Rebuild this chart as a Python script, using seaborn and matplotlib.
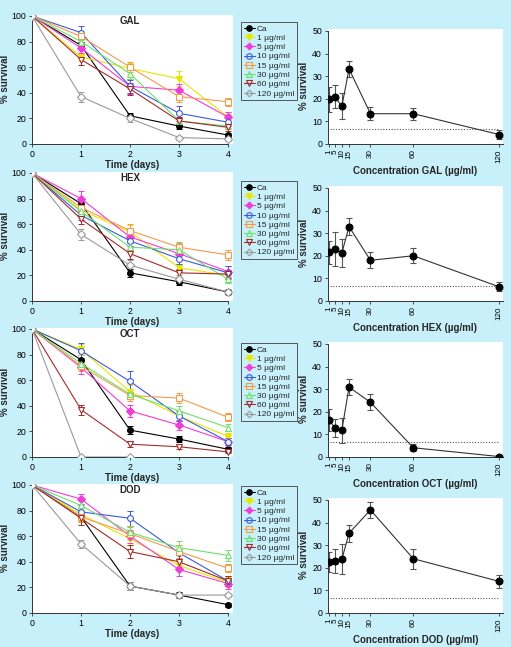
import numpy as np
import pandas as pd
import matplotlib
matplotlib.use('Agg')
import matplotlib.pyplot as plt
from matplotlib.lines import Line2D
import seaborn as sns

sns.set_theme(style='ticks')
plt.rcParams['font.family'] = ['Liberation Sans', 'DejaVu Sans']

BG = '#c8f0fa'

# ---------------- data ----------------
compounds = ['GAL', 'HEX', 'OCT', 'DOD']
days = [0, 1, 2, 3, 4]
series = ['Ca', '1 µg/ml', '5 µg/ml', '10 µg/ml', '15 µg/ml', '30 µg/ml', '60 µg/ml', '120 µg/ml']
colors = ['#000000', '#e6e600', '#f03cd8', '#3b5bd9', '#f59a4a', '#6ee06e', '#a52a2a', '#9a9a9a']
markers = ['o', 'v', 'D', 'o', 's', '^', 'v', 'D']
filled = [True, True, True, False, False, False, False, False]

GAL_MEAN = [[100, 77, 22, 14, 7],
            [100, 68, 59, 51, 21],
            [100, 75, 45, 42, 21],
            [100, 87, 45, 24, 17],
            [100, 84, 60, 37, 33],
            [100, 80, 55, 18, 14],
            [100, 66, 43, 18, 13],
            [100, 37, 20, 5, 4]]
GAL_ERR = [[0, 3, 2.5, 2, 1.5],
           [0, 3, 4, 6, 4],
           [0, 4, 6, 5, 4],
           [0, 5, 5, 6, 3],
           [0, 3, 4, 4, 3],
           [0, 3, 4, 3, 2],
           [0, 4, 5, 3, 3],
           [0, 4, 3, 1.5, 1.5]]

HEX_MEAN = [[100, 76, 22, 15, 7],
            [100, 71, 54, 26, 20],
            [100, 80, 50, 37, 23],
            [100, 67, 47, 33, 22],
            [100, 73, 55, 42, 36],
            [100, 70, 42, 40, 17],
            [100, 64, 37, 22, 21],
            [100, 52, 28, 17, 7]]
HEX_ERR = [[0, 3, 3, 2.5, 1.5],
           [0, 3, 5, 3, 3],
           [0, 6, 5, 4, 4],
           [0, 4, 4, 4, 5],
           [0, 4, 5, 4, 4],
           [0, 3, 4, 5, 3],
           [0, 4, 4, 3, 3],
           [0, 4, 4, 3, 2]]

OCT_MEAN = [[100, 76, 21, 14, 6],
            [100, 84, 51, 32, 16],
            [100, 70, 36, 25, 12],
            [100, 83, 59, 32, 12],
            [100, 71, 48, 46, 31],
            [100, 73, 49, 36, 23],
            [100, 37, 10, 8, 4],
            [100, 0, 0, np.nan, np.nan]]
OCT_ERR = [[0, 4, 3, 2.5, 2],
           [0, 4, 5, 4, 3],
           [0, 5, 5, 4, 3],
           [0, 6, 8, 4, 3],
           [0, 4, 4, 4, 3],
           [0, 4, 4, 4, 3],
           [0, 4, 2, 2, 1],
           [0, 1, 0.5, np.nan, np.nan]]

DOD_MEAN = [[100, 75, 21, 14, 6.5],
            [100, 77, 58, 37, 24],
            [100, 89, 60, 34, 23],
            [100, 79, 74, 47, 25],
            [100, 75, 62, 48, 35],
            [100, 84, 63, 51, 45],
            [100, 74, 48, 40, 25],
            [100, 54, 21, 14, 14]]
DOD_ERR = [[0, 3, 3, 2.5, 1.5],
           [0, 5, 5, 4, 4],
           [0, 4, 5, 5, 4],
           [0, 5, 6, 6, 4],
           [0, 4, 5, 5, 3],
           [0, 4, 5, 5, 4],
           [0, 5, 5, 5, 4],
           [0, 3, 3, 2, 1.5]]

conc = [1, 5, 10, 15, 30, 60, 120]
GAL_DAY = [19.7, 20.9, 16.7, 33.2, 13.4, 13.4, 4.2]
GAL_DAY_ERR = [5.5, 5.0, 5.8, 3.5, 2.8, 2.6, 1.8]
HEX_DAY = [21.5, 23.2, 21.3, 32.9, 18.0, 20.0, 6.3]
HEX_DAY_ERR = [5.0, 7.5, 6.3, 3.6, 3.6, 3.4, 2.0]
OCT_DAY = [16.4, 13.0, 11.9, 30.9, 24.2, 4.1, 0.2]
OCT_DAY_ERR = [4.8, 4.0, 5.5, 3.5, 3.5, 1.5, 0.0]
DOD_DAY = [22.6, 22.8, 23.8, 35.3, 45.6, 24.0, 14.0]
DOD_DAY_ERR = [4.4, 5.3, 6.5, 3.7, 3.7, 4.5, 2.8]
ctrl_level = 6.7

means = [GAL_MEAN, HEX_MEAN, OCT_MEAN, DOD_MEAN]
errs = [GAL_ERR, HEX_ERR, OCT_ERR, DOD_ERR]
day_vals = [GAL_DAY, HEX_DAY, OCT_DAY, DOD_DAY]
day_errs = [GAL_DAY_ERR, HEX_DAY_ERR, OCT_DAY_ERR, DOD_DAY_ERR]

# ---------------- layout ----------------
W, H = 511, 647
fig = plt.figure(figsize=(W / 100, H / 100), dpi=100, facecolor=BG)


def ax_px(l, t, r, b):
    a = fig.add_axes([l / W, 1 - b / H, (r - l) / W, (b - t) / H])
    a.set_facecolor('white')
    return a


bottoms = [144, 301, 457, 613]
TS = 6.3
LS = 7


def style_axes(a):
    for s in ['top', 'right']:
        a.spines[s].set_visible(False)
    for s in ['left', 'bottom']:
        a.spines[s].set_color('#333333')
        a.spines[s].set_linewidth(0.7)
    a.tick_params(direction='out', length=2.5, width=0.6, colors='#333333',
                  labelsize=TS, pad=1.5, labelcolor='black')


for i, comp in enumerate(compounds):
    b = bottoms[i]
    # left panel
    ax = ax_px(32, b - 129.3, 233, b)
    for j, name in enumerate(series):
        df = pd.DataFrame({'day': days, 'val': means[i][j]}).dropna()
        mfc = colors[j] if filled[j] else 'white'
        ms = 4.2 if markers[j] != 'D' else 3.6
        sns.lineplot(data=df, x='day', y='val', ax=ax, color=colors[j],
                     marker=markers[j], markersize=ms, markerfacecolor=mfc,
                     markeredgecolor=colors[j], markeredgewidth=0.8,
                     linewidth=0.8, legend=False, zorder=3 + j * 0.01)
        ax.errorbar(days, means[i][j], yerr=errs[i][j], fmt='none',
                    ecolor=colors[j], elinewidth=0.7, capsize=2, capthick=0.7, zorder=2)
    ax.set_xlim(0, 4.1)
    ax.set_ylim(0, 101)
    ax.set_xticks([0, 1, 2, 3, 4])
    ax.set_yticks([0, 20, 40, 60, 80, 100])
    ax.spines['bottom'].set_bounds(0, 4)
    ax.spines['left'].set_bounds(0, 100)
    style_axes(ax)
    ax.set_xlabel('Time (days)', fontsize=LS, fontweight='bold', labelpad=1)
    ax.set_ylabel('% survival', fontsize=LS, fontweight='bold', labelpad=1)
    ax.text(2.0, 96, comp, fontsize=LS, fontweight='bold', ha='center', va='center')

    # right panel
    ax2 = ax_px(327.6, b - 115.3, 503.3, b)
    dfr = pd.DataFrame({'conc': conc, 'val': day_vals[i]})
    ax2.hlines(ctrl_level, 2, 120, colors='#555555', linestyles=(0, (1, 1.5)), linewidth=0.8)
    ax2.errorbar(conc, day_vals[i], yerr=day_errs[i], fmt='none', ecolor='#555555',
                 elinewidth=0.8, capsize=2.5, capthick=0.8, zorder=2)
    sns.lineplot(data=dfr, x='conc', y='val', ax=ax2, color='#333333', marker='o',
                 markersize=5, markerfacecolor='black', markeredgecolor='black',
                 linewidth=0.8, legend=False, zorder=3)
    ax2.set_xlim(0, 123)
    ax2.set_ylim(0, 51)
    ax2.set_xticks(conc)
    ax2.set_xticklabels([str(c) for c in conc], rotation=90, fontsize=5.8)
    ax2.set_yticks([0, 10, 20, 30, 40, 50])
    ax2.spines['left'].set_bounds(0, 50)
    style_axes(ax2)
    ax2.tick_params(axis='x', labelsize=5.8)
    ax2.set_xlabel(f'Concentration {comp} (µg/ml)', fontsize=LS, fontweight='bold', labelpad=2)
    ax2.set_ylabel('% survival', fontsize=LS, fontweight='bold', labelpad=2)

    # legend
    handles = []
    for j, name in enumerate(series):
        mfc = colors[j] if filled[j] else 'none'
        ms = 4.0 if markers[j] != 'D' else 3.4
        handles.append(Line2D([0], [0], color=colors[j], marker=markers[j], markersize=ms,
                              markerfacecolor=mfc, markeredgecolor=colors[j],
                              markeredgewidth=0.8, linewidth=0.8))
    leg_top = [22, 181, 343, 486][i]
    leg = fig.legend(handles, series, loc='upper left',
                     bbox_to_anchor=(241 / W, 1 - leg_top / H),
                     fontsize=6, handlelength=1.3, handletextpad=0.25,
                     labelspacing=0.17, borderpad=0.35, borderaxespad=0,
                     frameon=True, fancybox=False, framealpha=1)
    leg.get_frame().set_edgecolor('#555555')
    leg.get_frame().set_facecolor(BG)
    leg.get_frame().set_linewidth(0.7)

fig.savefig('out.png', dpi=100, facecolor=BG)
